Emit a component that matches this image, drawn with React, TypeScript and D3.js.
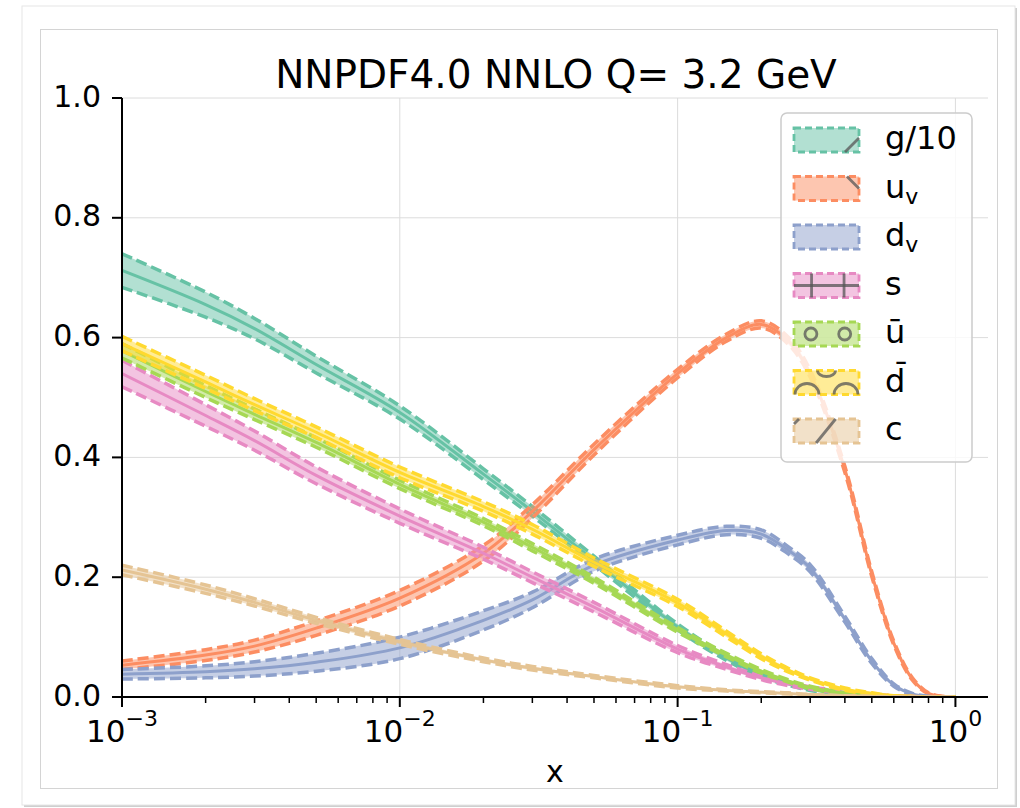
import React from "react";
import * as d3 from "d3";

const xGrid = [1e-3, 2e-3, 3e-3, 5e-3, 1e-2, 2e-2, 3e-2, 5e-2, 0.1, 0.15, 0.2, 0.25, 0.3, 0.4, 0.5, 0.6, 0.7, 0.8, 0.9, 1.0];

const gluon = [0.712, 0.655, 0.615, 0.555, 0.475, 0.372, 0.31, 0.228, 0.117, 0.065, 0.036, 0.022, 0.013, 0.005, 0.002, 0.001, 0.0004, 0.0001, 0, 0];
const gluonErr = [0.028, 0.021, 0.017, 0.014, 0.011, 0.009, 0.008, 0.007, 0.005, 0.004, 0.003, 0.002, 0.002, 0.001, 0.001, 0, 0, 0, 0, 0];

const uv = [0.053, 0.07, 0.085, 0.115, 0.165, 0.24, 0.31, 0.413, 0.54, 0.6, 0.622, 0.595, 0.54, 0.38, 0.205, 0.09, 0.03, 0.006, 0.001, 0];
const uvErr = [0.007, 0.009, 0.01, 0.012, 0.013, 0.013, 0.011, 0.009, 0.007, 0.006, 0.006, 0.006, 0.006, 0.005, 0.004, 0.003, 0.002, 0.001, 0, 0];

const dv = [0.038, 0.042, 0.047, 0.058, 0.082, 0.128, 0.162, 0.22, 0.262, 0.278, 0.272, 0.245, 0.215, 0.13, 0.06, 0.02, 0.005, 0.001, 0, 0];
const dvErr = [0.008, 0.01, 0.012, 0.015, 0.018, 0.016, 0.013, 0.01, 0.008, 0.007, 0.007, 0.006, 0.006, 0.005, 0.004, 0.002, 0.001, 0, 0, 0];

const sq = [0.54, 0.47, 0.428, 0.37, 0.302, 0.24, 0.2, 0.15, 0.08, 0.05, 0.032, 0.022, 0.015, 0.008, 0.004, 0.002, 0.001, 0, 0, 0];
const sqErr = [0.022, 0.018, 0.016, 0.014, 0.012, 0.01, 0.009, 0.008, 0.006, 0.004, 0.003, 0.003, 0.002, 0.002, 0.001, 0, 0, 0, 0, 0];

const ubar = [0.578, 0.51, 0.472, 0.425, 0.355, 0.292, 0.25, 0.195, 0.112, 0.07, 0.043, 0.027, 0.016, 0.006, 0.002, 0.001, 0, 0, 0, 0];
const ubarErr = [0.012, 0.01, 0.009, 0.008, 0.007, 0.006, 0.006, 0.005, 0.004, 0.003, 0.003, 0.002, 0.002, 0.001, 0, 0, 0, 0, 0, 0];

const dbar = [0.59, 0.526, 0.488, 0.442, 0.375, 0.318, 0.28, 0.225, 0.157, 0.105, 0.068, 0.045, 0.03, 0.013, 0.006, 0.002, 0.001, 0, 0, 0];
const dbarErr = [0.012, 0.011, 0.01, 0.009, 0.009, 0.008, 0.008, 0.007, 0.006, 0.005, 0.004, 0.003, 0.002, 0.002, 0.001, 0, 0, 0, 0, 0];

const charm = [0.212, 0.18, 0.158, 0.128, 0.092, 0.062, 0.048, 0.034, 0.017, 0.011, 0.008, 0.006, 0.004, 0.002, 0.001, 0, 0, 0, 0, 0];
const charmErr = [0.008, 0.007, 0.006, 0.005, 0.004, 0.003, 0.003, 0.002, 0.002, 0.001, 0.001, 0.001, 0, 0, 0, 0, 0, 0, 0, 0];

const seriesNames = ["g/10", "u_v", "d_v", "s", "ubar", "dbar", "c"];
const seriesColors = ["#66c2a5", "#fc8d62", "#8da0cb", "#e78ac3", "#a6d854", "#ffd92f", "#e5c494"];
const seriesValues = [gluon, uv, dv, sq, ubar, dbar, charm];
const seriesErrors = [gluonErr, uvErr, dvErr, sqErr, ubarErr, dbarErr, charmErr];

const yTicks = [0, 0.2, 0.4, 0.6, 0.8, 1.0];
const xMajor = [1e-3, 1e-2, 1e-1, 1];
const xMajorExp = ["−3", "−2", "−1", "0"];

const title = "NNPDF4.0 NNLO Q= 3.2 GeV";

const W = 1020;
const H = 808;
const L = 122, R = 988, T = 98, B = 697;

const FONT = "DejaVu Sans, sans-serif";

function LegendLabel({ name, x, y }: { name: string; x: number; y: number }) {
  const fs = 32;
  if (name === "u_v" || name === "d_v") {
    return (
      <text x={x} y={y} fontSize={fs} fontFamily={FONT} dominantBaseline="middle">
        {name[0]}
        <tspan fontSize={22} dy={9}>v</tspan>
      </text>
    );
  }
  const label = name === "ubar" ? "u\u0304" : name === "dbar" ? "d\u0304" : name;
  return (
    <text x={x} y={y} fontSize={fs} fontFamily={FONT} dominantBaseline="middle">
      {label}
    </text>
  );
}

function Hatch({ idx, x, y, w, h }: { idx: number; x: number; y: number; w: number; h: number }) {
  const st = { stroke: "#555", strokeOpacity: 0.75, strokeWidth: 2.8, fill: "none" } as const;
  const cy = y + h / 2;
  switch (idx) {
    case 0:
      return <line x1={x + w - 14} y1={y + h} x2={x + w} y2={y + h - 14} {...st} />;
    case 1:
      return <line x1={x + w - 12} y1={y} x2={x + w} y2={y + 12} {...st} />;
    case 3:
      return (
        <g>
          <line x1={x} y1={cy} x2={x + w} y2={cy} {...st} />
          <line x1={x + w * 0.27} y1={y} x2={x + w * 0.27} y2={y + h} {...st} />
          <line x1={x + w * 0.77} y1={y} x2={x + w * 0.77} y2={y + h} {...st} />
        </g>
      );
    case 4:
      return (
        <g>
          <circle cx={x + w * 0.26} cy={cy} r={6} {...st} />
          <circle cx={x + w * 0.78} cy={cy} r={6} {...st} />
        </g>
      );
    case 5:
      return (
        <g>
          <path d={`M${x + 1},${y + h} A12,11 0 0 1 ${x + 25},${y + h}`} {...st} />
          <path d={`M${x + w - 25},${y + h} A12,11 0 0 1 ${x + w - 1},${y + h}`} {...st} />
          <path d={`M${x + w / 2 - 9},${y} A9,6 0 0 0 ${x + w / 2 + 9},${y}`} {...st} />
        </g>
      );
    case 6:
      return (
        <g>
          <line x1={x + w * 0.34} y1={y + h} x2={x + w * 0.64} y2={y} {...st} />
          <line x1={x} y1={y + 5} x2={x + 5} y2={y} {...st} />
        </g>
      );
    default:
      return null;
  }
}

export default function App() {
  const xs = d3.scaleLog().domain([1e-3, 1.31]).range([L, R]);
  const ys = d3.scaleLinear().domain([0, 1]).range([B, T]);

  const minor: number[] = [];
  for (let e = -3; e <= 0; e++) {
    for (let m = 2; m <= 9; m++) {
      const v = m * Math.pow(10, e);
      if (v <= 1.31) minor.push(v);
    }
  }

  const curve = d3.curveCatmullRom.alpha(0.5);
  const area = d3
    .area<number>()
    .x((_, i) => xs(xGrid[i]))
    .curve(curve);
  const line = d3
    .line<number>()
    .x((_, i) => xs(xGrid[i]))
    .curve(curve);

  const rowY = (i: number) => 140 + i * 48.5;

  return (
    <svg width={W} height={H} style={{ position: "absolute", left: 0, top: 0, background: "#fff" }}>
      <defs>
        <clipPath id="plotclip">
          <rect x={L} y={T - 4} width={R - L} height={B - T + 4} />
        </clipPath>
      </defs>
      {/* frame */}
      <rect x={24} y={8} width={993} height={799} fill="#cfcfcf" />
      <rect x={22} y={6} width={993} height={799} fill="#fff" stroke="#e6e6e6" strokeWidth={1} />
      <rect x={40.5} y={29.5} width={957} height={759} fill="#fff" stroke="#d4d4d4" strokeWidth={1} />

      {/* grid */}
      {yTicks.slice(1).map((t) => (
        <line key={"gy" + t} x1={L} x2={R} y1={ys(t)} y2={ys(t)} stroke="#dcdcdc" strokeWidth={1} />
      ))}
      {xMajor.slice(1).map((t) => (
        <line key={"gx" + t} x1={xs(t)} x2={xs(t)} y1={T} y2={B} stroke="#dcdcdc" strokeWidth={1} />
      ))}

      {/* bands */}
      <g clipPath="url(#plotclip)">
        {seriesValues.map((vals, k) => {
          const errs = seriesErrors[k];
          const lo = vals.map((v, i) => ys(Math.max(0, v - errs[i])));
          const hi = vals.map((v, i) => ys(v + errs[i]));
          const c = seriesColors[k];
          const a = area.y0((_, i) => lo[i]).y1((_, i) => hi[i]);
          return (
            <g key={seriesNames[k]}>
              <path d={a(vals) || ""} fill={c} fillOpacity={0.5} />
              <path d={line.y((_, i) => hi[i])(vals) || ""} fill="none" stroke={c} strokeWidth={3.5} strokeDasharray="11,5" />
              <path d={line.y((_, i) => lo[i])(vals) || ""} fill="none" stroke={c} strokeWidth={3.5} strokeDasharray="11,5" />
              <path d={line.y((v) => ys(v))(vals) || ""} fill="none" stroke={c} strokeWidth={3} />
            </g>
          );
        })}
      </g>

      {/* axes */}
      <line x1={L} x2={L} y1={T} y2={B + 1} stroke="#000" strokeWidth={2} />
      <line x1={L - 1} x2={R} y1={B} y2={B} stroke="#000" strokeWidth={2} />
      {yTicks.map((t) => (
        <g key={"yt" + t}>
          <line x1={L - 10} x2={L} y1={ys(t)} y2={ys(t)} stroke="#000" strokeWidth={2} />
          <text x={L - 21} y={ys(t)} fontSize={30} fontFamily={FONT} textAnchor="end" dominantBaseline="middle">
            {t.toFixed(1)}
          </text>
        </g>
      ))}
      {xMajor.map((t, i) => (
        <g key={"xt" + t}>
          <line x1={xs(t)} x2={xs(t)} y1={B} y2={B + 10} stroke="#000" strokeWidth={2} />
          <text x={xs(t)} y={742} fontSize={31} fontFamily={FONT} textAnchor="middle">
            10
            <tspan fontSize={22} dy={-16}>{xMajorExp[i]}</tspan>
          </text>
        </g>
      ))}
      {minor.map((t) => (
        <line key={"mt" + t} x1={xs(t)} x2={xs(t)} y1={B} y2={B + 6} stroke="#000" strokeWidth={1.5} />
      ))}
      <text x={(L + R) / 2} y={782} fontSize={30} fontFamily={FONT} textAnchor="middle">
        x
      </text>
      <text x={556} y={88} fontSize={39} fontFamily={FONT} textAnchor="middle">
        {title}
      </text>

      {/* legend */}
      <rect x={781} y={113} width={191} height={349} rx={6} fill="#fff" fillOpacity={0.8} stroke="#cccccc" strokeWidth={1.5} />
      {seriesNames.map((n, i) => {
        const py = rowY(i) - 12;
        return (
          <g key={"lg" + n}>
            <rect x={794} y={py} width={65} height={24} fill={seriesColors[i]} fillOpacity={0.5} stroke={seriesColors[i]} strokeWidth={2.8} strokeDasharray="7,4" />
            <Hatch idx={i} x={794} y={py} w={65} h={24} />
            <LegendLabel name={n} x={885} y={rowY(i)} />
          </g>
        );
      })}
    </svg>
  );
}
